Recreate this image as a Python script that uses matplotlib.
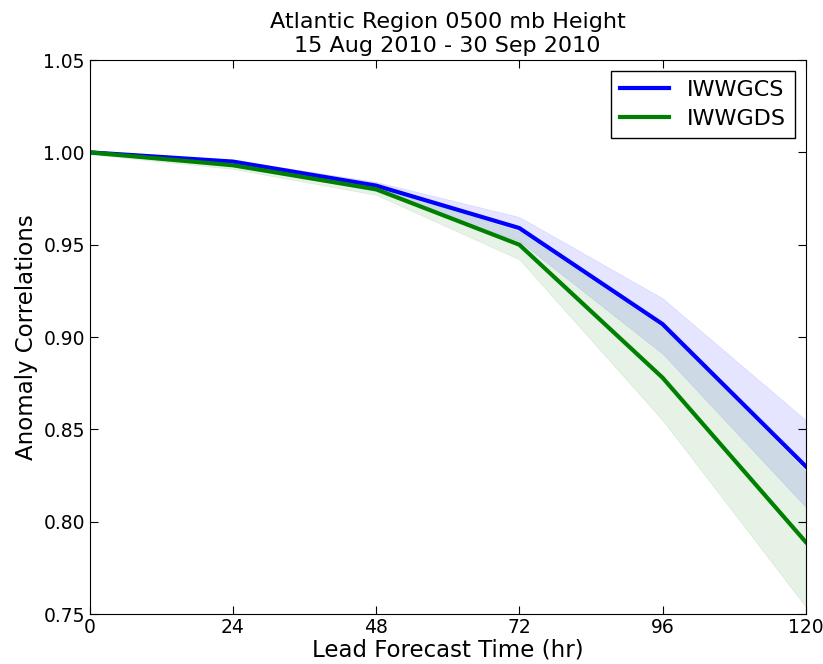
import numpy as np
import matplotlib
matplotlib.use('Agg')
import matplotlib.pyplot as plt

# lead times and anomaly correlations
lead = [0, 24, 48, 72, 96, 120]
iwwgcs = [1.000, 0.995, 0.982, 0.959, 0.907, 0.830]
iwwgcs_lo = [0.999, 0.993, 0.979, 0.952, 0.891, 0.808]
iwwgcs_hi = [1.001, 0.996, 0.984, 0.965, 0.921, 0.855]
iwwgds = [1.000, 0.993, 0.980, 0.950, 0.878, 0.789]
iwwgds_lo = [0.999, 0.991, 0.977, 0.942, 0.855, 0.754]
iwwgds_hi = [1.001, 0.995, 0.982, 0.957, 0.905, 0.827]

fig = plt.figure(figsize=(8.23, 6.64), dpi=100)
ax = fig.add_axes([0.109, 0.0753, 0.870, 0.8343])

ax.fill_between(lead, iwwgcs_lo, iwwgcs_hi, color='blue', alpha=0.1, linewidth=0.5)
ax.fill_between(lead, iwwgds_lo, iwwgds_hi, color='green', alpha=0.1, linewidth=0.5)
ax.plot(lead, iwwgcs, color='blue', lw=3, label='IWWGCS')
ax.plot(lead, iwwgds, color='green', lw=3, label='IWWGDS')

ax.set_xlim(0, 120)
ax.set_ylim(0.75, 1.05)
ax.set_xticks(lead)
ax.set_yticks(np.arange(0.75, 1.051, 0.05))
ax.set_yticklabels(['%.2f' % v for v in np.arange(0.75, 1.051, 0.05)])
ax.tick_params(direction='in', top=True, right=True, length=6, labelsize=13.5)
ax.tick_params(axis='x', pad=3)
ax.set_xlabel('Lead Forecast Time (hr)', fontsize=16.5, labelpad=1)
ax.set_ylabel('Anomaly Correlations', fontsize=16.5)
ax.set_title('Atlantic Region 0500 mb Height\n15 Aug 2010 - 30 Sep 2010', fontsize=16)

leg = ax.legend(loc='upper right', fontsize=16, fancybox=False, framealpha=1,
                handlelength=2.2, borderpad=0.4, labelspacing=0.4)
leg.get_frame().set_edgecolor('black')

fig.savefig('out.png', dpi=100)
